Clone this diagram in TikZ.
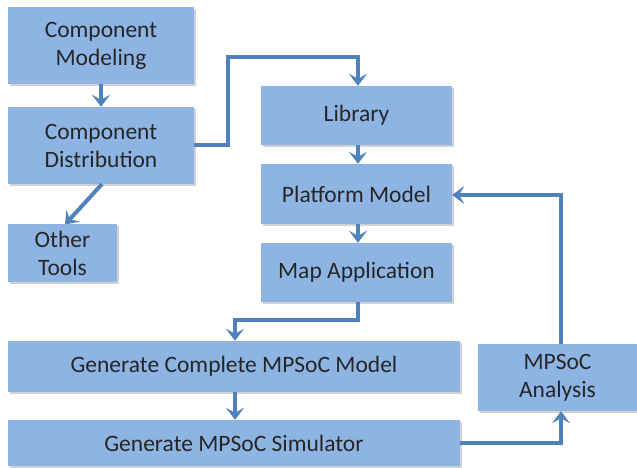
\documentclass[tikz,border=0pt]{standalone}
\usepackage{fontspec}
\setmainfont{Carlito}
\usetikzlibrary{arrows.meta,shadows}
\definecolor{boxfill}{HTML}{8EB4E3}
\definecolor{linec}{HTML}{4F81BD}
\definecolor{txt}{HTML}{262626}
\tikzset{
  box/.style={rectangle, fill=boxfill, draw=none, text=txt, align=center,
    font=\fontsize{23.5}{28}\selectfont, inner sep=0pt,
    drop shadow={shadow xshift=1.5pt, shadow yshift=-2pt, fill=black!18, opacity=1}},
  conn/.style={draw=linec, line width=4pt,
    -{Stealth[length=12pt,width=18pt,inset=5pt]}}
}
\begin{document}
\begin{tikzpicture}[x=1pt,y=-1pt]
\useasboundingbox (0,0) rectangle (637,468);
\node[box, minimum width=186pt, minimum height=77pt] (cm) at (101,45.5) {Component\\Modeling};
\node[box, minimum width=186pt, minimum height=77pt] (cd) at (101,145.5) {Component\\Distribution};
\node[box, minimum width=109pt, minimum height=58pt] (ot) at (62.5,253) {Other\\Tools};
\node[box, minimum width=191pt, minimum height=59pt] (lib) at (356.5,115.5) {Library};
\node[box, minimum width=191pt, minimum height=60pt] (pm) at (356.5,194) {Platform Model};
\node[box, minimum width=191pt, minimum height=59pt] (map) at (356.5,272.5) {Map Application};
\node[box, minimum width=452pt, minimum height=51pt] (gc) at (234,366.5) {Generate Complete MPSoC Model};
\node[box, minimum width=452pt, minimum height=46pt] (gs) at (234,443) {Generate MPSoC Simulator};
\node[box, minimum width=159pt, minimum height=67pt] (an) at (557.5,377.5) {MPSoC\\Analysis};
\coordinate (c1) at (228,145);
\coordinate (c2) at (228,57);
\coordinate (c3) at (358,57);
\coordinate (c4) at (358,320);
\coordinate (c5) at (235,320);
\coordinate (c6) at (561,443);
\coordinate (c7) at (561,195);
\draw[conn] (cm.south) -- (cd.north);
\draw[conn] (102,184) -- (65,224.5);
\draw[conn] (cd.east |- c1) -- (c1) -- (c2) -- (c3) -- (lib.north -| c3);
\draw[conn] (lib.south -| c3) -- (pm.north -| c3);
\draw[conn] (pm.south -| c3) -- (map.north -| c3);
\draw[conn] (map.south -| c4) -- (c4) -- (c5) -- (gc.north -| c5);
\draw[conn] (gc.south -| c5) -- (gs.north -| c5);
\draw[conn] (gs.east |- c6) -- (c6) -- (an.south -| c6);
\draw[conn] (an.north -| c7) -- (c7) -- (pm.east |- c7);
\end{tikzpicture}
\end{document}
